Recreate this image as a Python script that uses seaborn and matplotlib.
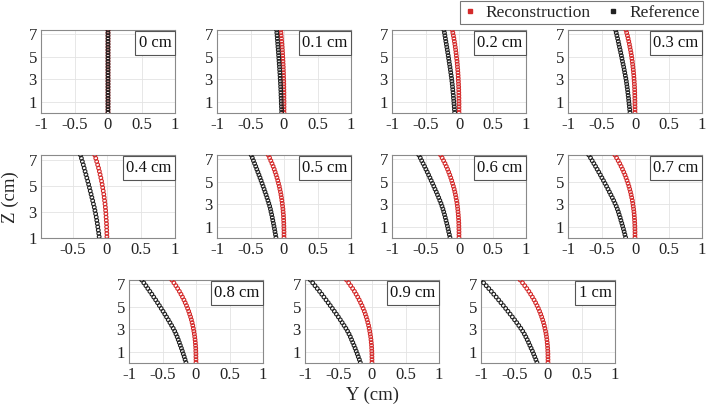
import numpy as np
import pandas as pd
import matplotlib
matplotlib.use("Agg")
import matplotlib.pyplot as plt
from matplotlib.lines import Line2D
import seaborn as sns

# depth along the beam (cm), same sampling for every panel
z_cm = [0.1, 0.35, 0.6, 0.85, 1.1, 1.35, 1.6, 1.85, 2.1, 2.35,
        2.6, 2.85, 3.1, 3.35, 3.6, 3.85, 4.1, 4.35, 4.6, 4.85,
        5.1, 5.35, 5.6, 5.85, 6.1, 6.35, 6.6, 6.85, 7.1, 7.35]

panel_labels = ["0 cm", "0.1 cm", "0.2 cm", "0.3 cm", "0.4 cm", "0.5 cm",
                "0.6 cm", "0.7 cm", "0.8 cm", "0.9 cm", "1 cm"]

# reference (black) lateral position Y (cm)
ref = [
    [0.0, 0.0, 0.0, 0.0, 0.0, 0.0, 0.0, 0.0, 0.0, 0.0,
     0.0, 0.0, 0.0, 0.0, 0.0, 0.0, 0.0, 0.0, 0.0, 0.0,
     0.0, 0.0, 0.0, 0.0, 0.0, 0.0, 0.0, 0.0, 0.0, 0.0],
    [-0.035, -0.036, -0.038, -0.040, -0.041, -0.043, -0.045, -0.046, -0.048, -0.050,
     -0.052, -0.054, -0.057, -0.059, -0.062, -0.065, -0.068, -0.071, -0.074, -0.077,
     -0.080, -0.083, -0.086, -0.090, -0.093, -0.096, -0.100, -0.103, -0.107, -0.110],
    [-0.065, -0.068, -0.071, -0.075, -0.078, -0.082, -0.085, -0.089, -0.093, -0.097,
     -0.101, -0.106, -0.111, -0.117, -0.123, -0.129, -0.135, -0.142, -0.148, -0.155,
     -0.161, -0.168, -0.175, -0.182, -0.189, -0.196, -0.203, -0.210, -0.217, -0.225],
    [-0.075, -0.079, -0.084, -0.088, -0.093, -0.097, -0.102, -0.107, -0.112, -0.118,
     -0.124, -0.130, -0.137, -0.145, -0.153, -0.161, -0.169, -0.178, -0.187, -0.195,
     -0.204, -0.213, -0.222, -0.232, -0.241, -0.250, -0.260, -0.270, -0.280, -0.290],
    [-0.090, -0.096, -0.102, -0.108, -0.115, -0.121, -0.128, -0.135, -0.142, -0.150,
     -0.158, -0.167, -0.177, -0.187, -0.199, -0.210, -0.222, -0.234, -0.246, -0.258,
     -0.270, -0.283, -0.296, -0.309, -0.322, -0.335, -0.348, -0.362, -0.376, -0.390],
    [-0.120, -0.127, -0.135, -0.142, -0.150, -0.158, -0.167, -0.175, -0.184, -0.194,
     -0.203, -0.214, -0.227, -0.240, -0.254, -0.268, -0.283, -0.297, -0.312, -0.327,
     -0.342, -0.358, -0.374, -0.390, -0.406, -0.422, -0.439, -0.456, -0.473, -0.490],
    [-0.135, -0.144, -0.154, -0.163, -0.173, -0.183, -0.194, -0.205, -0.216, -0.228,
     -0.240, -0.254, -0.269, -0.286, -0.303, -0.321, -0.339, -0.358, -0.376, -0.395,
     -0.415, -0.434, -0.454, -0.474, -0.494, -0.514, -0.536, -0.557, -0.578, -0.600],
    [-0.140, -0.151, -0.162, -0.173, -0.185, -0.197, -0.210, -0.222, -0.236, -0.249,
     -0.264, -0.280, -0.299, -0.318, -0.339, -0.360, -0.382, -0.403, -0.425, -0.448,
     -0.471, -0.494, -0.517, -0.541, -0.565, -0.589, -0.614, -0.639, -0.664, -0.690],
    [-0.150, -0.163, -0.176, -0.190, -0.204, -0.218, -0.234, -0.249, -0.265, -0.281,
     -0.299, -0.318, -0.340, -0.364, -0.389, -0.414, -0.440, -0.466, -0.492, -0.519,
     -0.547, -0.574, -0.602, -0.631, -0.659, -0.689, -0.719, -0.748, -0.779, -0.810],
    [-0.175, -0.189, -0.205, -0.220, -0.236, -0.252, -0.269, -0.287, -0.305, -0.323,
     -0.343, -0.365, -0.390, -0.417, -0.445, -0.473, -0.502, -0.532, -0.562, -0.592,
     -0.623, -0.654, -0.686, -0.718, -0.750, -0.783, -0.817, -0.851, -0.885, -0.920],
    [-0.165, -0.181, -0.198, -0.215, -0.233, -0.252, -0.271, -0.290, -0.310, -0.331,
     -0.353, -0.378, -0.406, -0.436, -0.467, -0.499, -0.532, -0.565, -0.598, -0.632,
     -0.667, -0.702, -0.737, -0.773, -0.810, -0.846, -0.884, -0.922, -0.961, -1.000],
]

# reconstruction (red)
rec = [
    [0.0, 0.0, 0.0, 0.0, 0.0, 0.0, 0.0, 0.0, 0.0, 0.0,
     0.0, 0.0, 0.0, 0.0, 0.0, 0.0, 0.0, 0.0, 0.0, 0.0,
     0.0, 0.0, 0.0, 0.0, 0.0, 0.0, 0.0, 0.0, 0.0, 0.0],
    [0.000, 0.000, 0.000, 0.000, 0.000, -0.001, -0.001, -0.001, -0.002, -0.003,
     -0.003, -0.004, -0.006, -0.007, -0.008, -0.010, -0.011, -0.013, -0.015, -0.017,
     -0.020, -0.022, -0.025, -0.028, -0.031, -0.035, -0.038, -0.042, -0.046, -0.050],
    [0.000, 0.000, 0.000, 0.000, -0.001, -0.001, -0.002, -0.003, -0.004, -0.005,
     -0.007, -0.009, -0.011, -0.013, -0.016, -0.019, -0.023, -0.026, -0.030, -0.035,
     -0.040, -0.045, -0.050, -0.056, -0.062, -0.069, -0.076, -0.084, -0.092, -0.100],
    [0.000, 0.000, 0.000, -0.001, -0.001, -0.002, -0.003, -0.004, -0.005, -0.007,
     -0.009, -0.012, -0.015, -0.018, -0.022, -0.026, -0.031, -0.036, -0.041, -0.047,
     -0.053, -0.060, -0.068, -0.076, -0.084, -0.093, -0.103, -0.113, -0.124, -0.135],
    [0.000, 0.000, 0.000, -0.001, -0.001, -0.002, -0.004, -0.005, -0.007, -0.010,
     -0.013, -0.016, -0.020, -0.024, -0.029, -0.035, -0.041, -0.047, -0.055, -0.063,
     -0.071, -0.080, -0.090, -0.101, -0.112, -0.124, -0.137, -0.151, -0.165, -0.180],
    [0.000, 0.000, 0.000, -0.001, -0.002, -0.003, -0.005, -0.007, -0.009, -0.013,
     -0.016, -0.021, -0.026, -0.032, -0.038, -0.045, -0.053, -0.062, -0.071, -0.082,
     -0.093, -0.105, -0.118, -0.132, -0.146, -0.162, -0.179, -0.197, -0.215, -0.235],
    [0.000, 0.000, 0.000, -0.001, -0.002, -0.003, -0.005, -0.008, -0.011, -0.015,
     -0.019, -0.024, -0.030, -0.037, -0.045, -0.053, -0.062, -0.072, -0.084, -0.096,
     -0.109, -0.123, -0.138, -0.154, -0.171, -0.190, -0.209, -0.230, -0.252, -0.275],
    [0.000, 0.000, 0.000, -0.001, -0.002, -0.004, -0.006, -0.009, -0.012, -0.016,
     -0.021, -0.027, -0.033, -0.040, -0.049, -0.058, -0.068, -0.079, -0.091, -0.104,
     -0.119, -0.134, -0.150, -0.168, -0.187, -0.207, -0.228, -0.251, -0.275, -0.300],
    [0.000, 0.000, -0.001, -0.001, -0.003, -0.004, -0.007, -0.010, -0.014, -0.019,
     -0.025, -0.032, -0.040, -0.048, -0.058, -0.069, -0.081, -0.095, -0.109, -0.125,
     -0.142, -0.161, -0.180, -0.202, -0.224, -0.248, -0.274, -0.301, -0.330, -0.360],
    [0.000, 0.000, -0.001, -0.001, -0.003, -0.005, -0.007, -0.011, -0.015, -0.020,
     -0.027, -0.034, -0.042, -0.051, -0.062, -0.073, -0.086, -0.100, -0.115, -0.132,
     -0.150, -0.170, -0.191, -0.213, -0.237, -0.262, -0.289, -0.318, -0.348, -0.380],
    [0.000, 0.000, -0.001, -0.001, -0.003, -0.005, -0.008, -0.012, -0.017, -0.022,
     -0.029, -0.037, -0.046, -0.056, -0.067, -0.080, -0.094, -0.109, -0.126, -0.144,
     -0.164, -0.185, -0.208, -0.233, -0.259, -0.286, -0.316, -0.347, -0.380, -0.415],
]

x_ticks = [-1, -0.5, 0, 0.5, 1]
x_tick_labels = ["-1", "-0.5", "0", "0.5", "1"]
z_ticks = [1, 3, 5, 7]

RED = "#d42a2a"
GRID = "#e3e3e3"
EDGE = "#8a8a8a"

sns.set_style("white")
plt.rcParams["font.family"] = ["Liberation Serif", "DejaVu Serif"]

fig = plt.figure(figsize=(7.08, 4.04), dpi=100)

W, H = 134 / 708, 83 / 404
row_bottoms = [1 - 113 / 404, 1 - 238 / 404, 1 - 363 / 404]
col_lefts = [41 / 708, 217 / 708, 392 / 708, 568 / 708]
row3_lefts = [129 / 708, 305 / 708, 481 / 708]

positions = []
for r in range(2):
    for c in range(4):
        positions.append((col_lefts[c], row_bottoms[r]))
for c in range(3):
    positions.append((row3_lefts[c], row_bottoms[2]))

for i, label in enumerate(panel_labels):
    left, bottom = positions[i]
    ax = fig.add_axes([left, bottom, W, H])
    df = pd.DataFrame({"y": rec[i], "z": z_cm})
    sns.scatterplot(data=df, x="y", y="z", ax=ax, marker="o", s=7,
                    facecolor="none", edgecolor=RED, linewidth=0.8, zorder=3)
    df = pd.DataFrame({"y": ref[i], "z": z_cm})
    sns.scatterplot(data=df, x="y", y="z", ax=ax, marker="o", s=7,
                    facecolor="none", edgecolor="#222222", linewidth=0.8, zorder=4)

    # ticks first, then limits (set_ticks would widen the view otherwise)
    ax.set_xticks(x_ticks)
    ax.set_xticklabels(x_tick_labels)
    ax.set_yticks(z_ticks)
    if label == "0.4 cm":
        ax.set_xlim(-0.97, 1)
        ax.set_ylim(1, 7.35)
    else:
        ax.set_xlim(-1, 1)
        ax.set_ylim(0.05, 7.35)
    ax.set_xlabel("")
    ax.set_ylabel("")
    ax.grid(True, color=GRID, linewidth=0.6)
    ax.set_axisbelow(True)
    for sp in ax.spines.values():
        sp.set_color(EDGE)
        sp.set_linewidth(0.8)
    ax.tick_params(labelsize=12, length=2, direction="in", color=EDGE, pad=3,
                   labelcolor="#222222")
    ax.text(0.975, 0.94, label, transform=ax.transAxes, ha="right", va="top",
            fontsize=12, color="#111111",
            bbox=dict(boxstyle="square,pad=0.22", facecolor="white",
                      edgecolor="#555555", linewidth=0.8))

handles = [
    Line2D([], [], linestyle="none", marker="s", markersize=2.2,
           markerfacecolor=RED, markeredgecolor=RED, label="Reconstruction"),
    Line2D([], [], linestyle="none", marker="s", markersize=2.2,
           markerfacecolor="#222222", markeredgecolor="#222222", label="Reference"),
]
leg = fig.legend(handles=handles, loc="upper right", ncol=2,
                 bbox_to_anchor=(703 / 708, 1 - 1 / 404), fontsize=12.5,
                 frameon=True, fancybox=False, handlelength=0.8,
                 handletextpad=0.5, columnspacing=0.9, borderpad=0.2,
                 borderaxespad=0)
leg.get_frame().set_edgecolor("#555555")
leg.get_frame().set_linewidth(0.8)

fig.text(10 / 708, 1 - 197 / 404, "Z (cm)", rotation=90, ha="center",
         va="center", fontsize=13.5)
fig.text(373 / 708, 1 - 395 / 404, "Y (cm)", ha="center", va="center",
         fontsize=13.5)

fig.savefig("out.png", dpi=100)
